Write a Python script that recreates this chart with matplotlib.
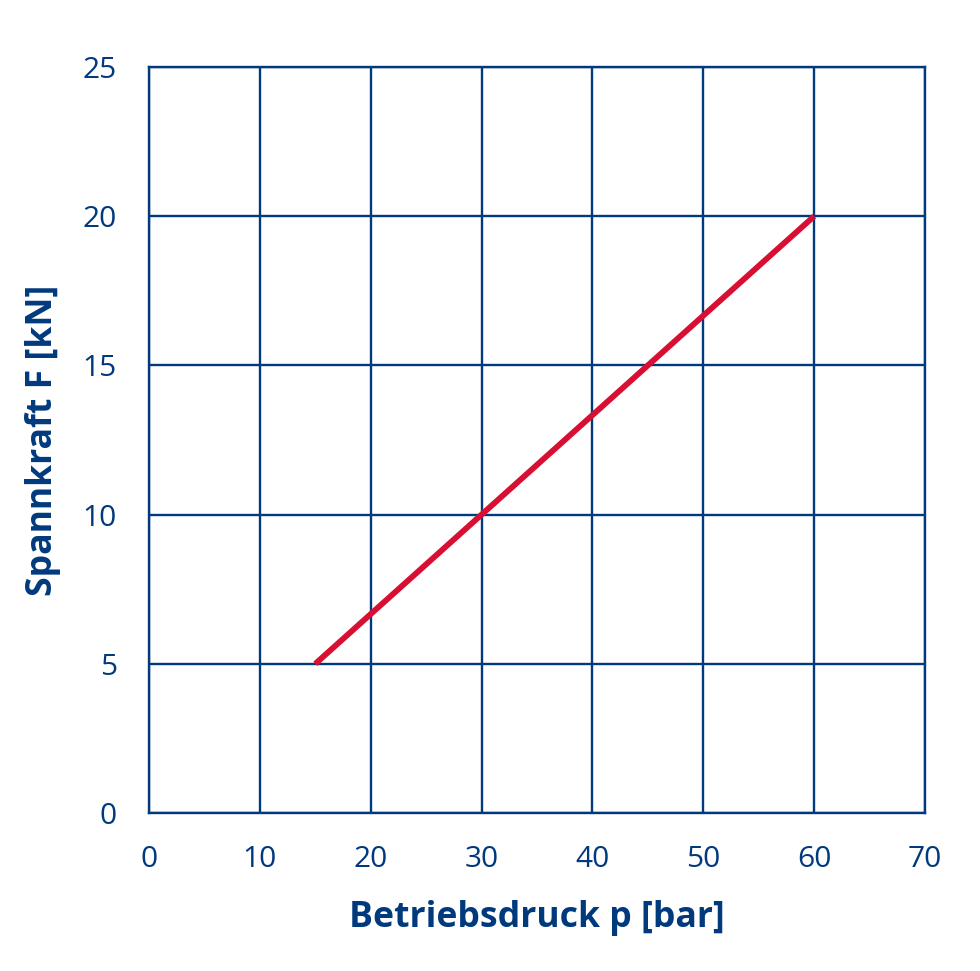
import matplotlib
matplotlib.use("Agg")
import matplotlib.pyplot as plt

pressure = [15, 60]
force = [5, 20]
x_ticks = [0, 10, 20, 30, 40, 50, 60, 70]
y_ticks = [0, 5, 10, 15, 20, 25]

navy = "#003a7d"
red = "#d80f32"
plt.rcParams['font.family'] = ['Open Sans', 'DejaVu Sans']

fig = plt.figure(figsize=(9.8, 9.71), dpi=100)
ax = fig.add_axes([149/980, 1-813/971, (925-149)/980, (813-67)/971])
ax.plot(pressure, force, color=red, lw=4.2, solid_capstyle='butt', zorder=3)
ax.set_xlim(0, 70)
ax.set_ylim(0, 25)
ax.set_xticks(x_ticks)
ax.set_yticks(y_ticks)
ax.grid(True, color=navy, lw=1.7)
for s in ax.spines.values():
    s.set_color(navy)
    s.set_linewidth(1.7)
ax.tick_params(length=0, labelsize=21.5, labelcolor=navy, pad=23)
ax.set_xlabel("Betriebsdruck p [bar]", fontsize=25.7, fontweight='bold', color=navy, labelpad=19)
ax.set_ylabel("Spannkraft F [kN]", fontsize=25.7, fontweight='bold', color=navy, labelpad=16)
fig.savefig("out.png", dpi=100)
